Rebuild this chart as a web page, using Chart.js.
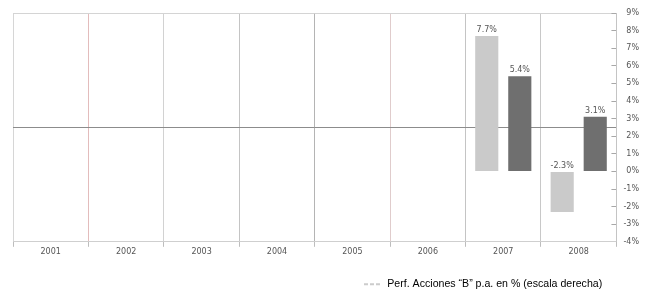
<!DOCTYPE html>
<html lang="es">
<head>
<meta charset="UTF-8">
<title>Perf. Acciones</title>
<script src="https://cdn.jsdelivr.net/npm/chart.js@4"></script>
<style>
  html, body { margin: 0; padding: 0; background: #fff; }
  #wrap { width: 650px; height: 294px; }
</style>
</head>
<body>
<div id="wrap"><canvas id="myChart"></canvas></div>
<script>
const years = ['2001', '2002', '2003', '2004', '2005', '2006', '2007', '2008'];
const perfB = [null, null, null, null, null, null, 7.7, -2.3];
const perfOther = [null, null, null, null, null, null, 5.4, 3.1];
const rightTicks = [-4, -3, -2, -1, 0, 1, 2, 3, 4, 5, 6, 7, 8, 9];
const legendText = 'Perf. Acciones \u201cB\u201d p.a. en % (escala derecha)';

// vertical grid line colours, left border first
const xGridColors = ['#d6d6d6', '#e3bcbc', '#d2d2d2', '#c4c4c4', '#b4b4b4', '#e0cccc', '#c4c4c4', '#c8c8c8', '#c8c8c8'];

const valueLabels = {
  id: 'valueLabels',
  afterDatasetsDraw(chart) {
    const ctx = chart.ctx;
    ctx.save();
    ctx.font = '8px "DejaVu Sans"';
    ctx.fillStyle = '#555';
    ctx.textAlign = 'center';
    ctx.textBaseline = 'bottom';
    chart.data.datasets.forEach((ds, i) => {
      chart.getDatasetMeta(i).data.forEach((bar, j) => {
        const v = ds.data[j];
        if (v === null || v === undefined) return;
        ctx.fillText(v.toFixed(1) + '%', bar.x, Math.min(bar.y, bar.base) - 2);
      });
    });
    ctx.restore();
  }
};

// move the legend under the right part of the chart
const legendShift = {
  id: 'legendShift',
  afterLayout(chart) {
    const lg = chart.legend;
    const dx = 334, dy = 5.5;
    lg.left += dx; lg.right += dx;
    lg.top += dy; lg.bottom += dy;
  }
};

const data = {
  labels: years,
  datasets: [
    {
      label: legendText,
      data: perfB,
      backgroundColor: '#cacaca',
      yAxisID: 'y2'
    },
    {
      label: 'Perf.',
      data: perfOther,
      backgroundColor: '#6f6f6f',
      yAxisID: 'y2'
    }
  ]
};

const config = {
  type: 'bar',
  data: data,
  plugins: [valueLabels, legendShift],
  options: {
    responsive: true,
    maintainAspectRatio: false,
    animation: false,
    layout: { padding: { left: 13, right: 11, top: 13, bottom: 0 } },
    datasets: {
      bar: { categoryPercentage: 0.876, barPercentage: 0.7 }
    },
    plugins: {
      tooltip: { enabled: false },
      legend: {
        position: 'bottom',
        align: 'start',
        labels: {
          padding: 17,
          usePointStyle: true,
          pointStyleWidth: 18,
          color: '#333',
          font: { family: '"Liberation Sans", Arial, sans-serif', size: 10.6 },
          generateLabels: () => [{
            text: legendText,
            fillStyle: 'rgba(0,0,0,0)',
            strokeStyle: '#cccccc',
            lineWidth: 2,
            lineDash: [4, 2],
            pointStyle: 'line',
            datasetIndex: 0
          }]
        }
      }
    },
    scales: {
      x: {
        offset: true,
        grid: {
          offset: true,
          color: (c) => xGridColors[c.index] || '#c8c8c8',
          tickColor: '#bdbdbd',
          tickLength: 5
        },
        border: { color: '#cfcfcf' },
        ticks: {
          padding: 0,
          color: '#555',
          font: { family: '"DejaVu Sans"', size: 8 }
        }
      },
      y: {
        position: 'left',
        min: -1,
        max: 1,
        ticks: { display: false, stepSize: 1 },
        grid: {
          drawTicks: false,
          color: (c) => c.tick.value === 0 ? '#8c8c8c' : (c.tick.value === 1 ? '#d4d4d4' : 'rgba(0,0,0,0)')
        },
        border: { display: false }
      },
      y2: {
        position: 'right',
        min: -4,
        max: 9,
        afterBuildTicks: (axis) => { axis.ticks = rightTicks.map(v => ({ value: v })); },
        grid: {
          drawOnChartArea: false,
          tickLength: -5,
          tickColor: '#a8a8a8'
        },
        border: { color: '#c4c4c4' },
        ticks: {
          padding: 6,
          crossAlign: 'far',
          color: '#555',
          font: { family: '"DejaVu Sans"', size: 8 },
          callback: (v) => v + '%'
        }
      }
    }
  }
};

const myChart = new Chart(document.getElementById('myChart'), config);
</script>
</body>
</html>
